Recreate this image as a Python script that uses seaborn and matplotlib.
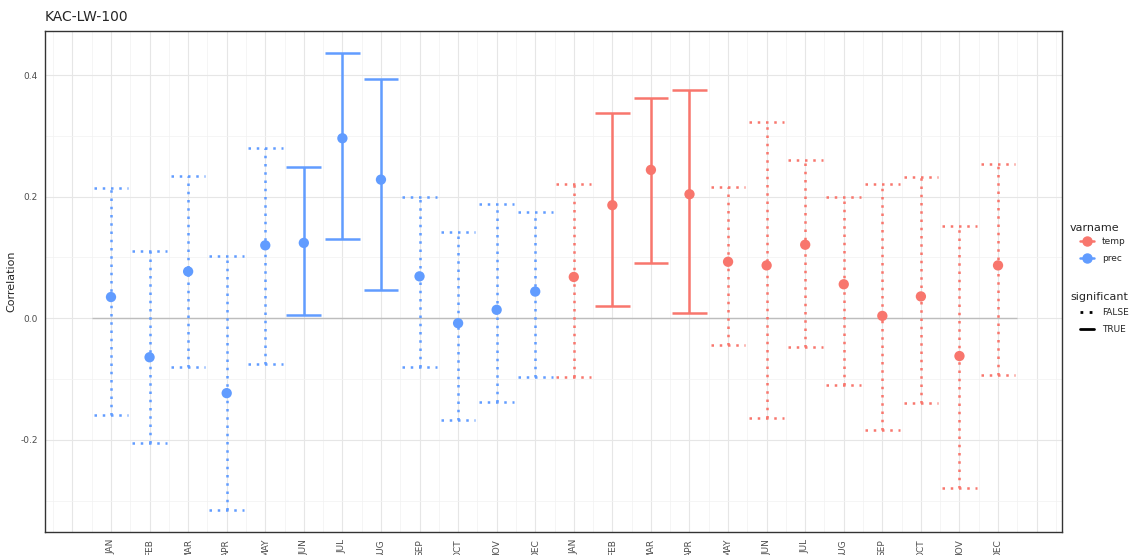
import numpy as np
import pandas as pd
import matplotlib
matplotlib.use("Agg")
import matplotlib.pyplot as plt
from matplotlib.lines import Line2D
import seaborn as sns

months = ["JAN", "FEB", "MAR", "APR", "MAY", "JUN",
          "JUL", "AUG", "SEP", "OCT", "NOV", "DEC"]

# correlation and confidence bounds
prec_coef = [0.035, -0.064, 0.077, -0.123, 0.120, 0.124,
             0.296, 0.228, 0.069, -0.008, 0.014, 0.044]
prec_lower = [-0.159, -0.205, -0.080, -0.315, -0.075, 0.006,
              0.130, 0.046, -0.080, -0.167, -0.138, -0.097]
prec_upper = [0.215, 0.111, 0.234, 0.102, 0.280, 0.249,
              0.436, 0.393, 0.200, 0.142, 0.188, 0.174]
prec_sig = [False, False, False, False, False, True,
            True, True, False, False, False, False]

temp_coef = [0.068, 0.186, 0.244, 0.204, 0.093, 0.087,
             0.121, 0.056, 0.004, 0.036, -0.062, 0.087]
temp_lower = [-0.097, 0.021, 0.091, 0.009, -0.044, -0.164,
              -0.047, -0.110, -0.183, -0.139, -0.279, -0.093]
temp_upper = [0.220, 0.338, 0.362, 0.376, 0.216, 0.323,
              0.260, 0.200, 0.221, 0.233, 0.152, 0.254]
temp_sig = [False, True, True, True, False, False,
            False, False, False, False, False, False]

colors = {"temp": "#F8766D", "prec": "#619CFF"}

df = pd.DataFrame({
    "month": months + months,
    "varname": ["prec"] * 12 + ["temp"] * 12,
    "coef": prec_coef + temp_coef,
    "lower": prec_lower + temp_lower,
    "upper": prec_upper + temp_upper,
    "significant": prec_sig + temp_sig,
})
df["pos"] = np.arange(len(df))

sns.set_style("white")
fig = plt.figure(figsize=(11.29, 5.55), dpi=100)
ax = fig.add_axes([0.0399, 0.0414, 0.9008, 0.9027])

# grid like ggplot theme_bw
for x in np.arange(-1, 25):
    ax.axvline(x, color="#E6E6E6", lw=0.8, zorder=0)
for x in np.arange(-1.5, 25, 1):
    ax.axvline(x, color="#F2F2F2", lw=0.5, zorder=0)
for y in [-0.4, -0.2, 0.0, 0.2, 0.4]:
    ax.axhline(y, color="#E6E6E6", lw=0.8, zorder=0)
for y in [-0.3, -0.1, 0.1, 0.3]:
    ax.axhline(y, color="#F2F2F2", lw=0.5, zorder=0)

ax.hlines(0, -0.5, 23.5, color="#BDBDBD", lw=1.0, zorder=1)

dotted = (0, (1, 2.3))
for _, r in df.iterrows():
    c = colors[r["varname"]]
    ls = "solid" if r["significant"] else dotted
    ax.vlines(r["pos"], r["lower"], r["upper"], color=c, lw=1.8, linestyles=[ls], zorder=2)
    ax.hlines([r["lower"], r["upper"]], r["pos"] - 0.45, r["pos"] + 0.45,
              color=c, lw=1.8, linestyles=[ls], zorder=2)

sns.scatterplot(data=df, x="pos", y="coef", hue="varname", palette=colors,
                s=55, edgecolor="none", legend=False, zorder=3, ax=ax)

ax.set_xlim(-1.71, 24.66)
ax.set_ylim(-0.3513, 0.4723)
ax.set_xticks(df["pos"])
ax.set_xticklabels(df["month"], rotation=90, fontsize=6.5, color="#4D4D4D")
ax.set_yticks([-0.2, 0.0, 0.2, 0.4])
ax.set_yticklabels(["-0.2", "0.0", "0.2", "0.4"], fontsize=6.5, color="#4D4D4D")
ax.tick_params(axis="both", length=3, width=0.8, color="#333333", pad=2)
ax.set_xlabel("")
ax.set_ylabel("Correlation", fontsize=8, labelpad=3)
for s in ax.spines.values():
    s.set_color("#333333")
    s.set_linewidth(1.0)
ax.set_title("KAC-LW-100", loc="left", fontsize=10, pad=7)

# legends: titles as text, keys indented like ggplot
fig.text(1070 / 1129, 1 - 228 / 555, "varname", fontsize=8, va="center", ha="left")
fig.text(1070 / 1129, 1 - 297 / 555, "significant", fontsize=8, va="center", ha="left")

h1 = [Line2D([0], [0], color=colors[k], lw=1.8, marker="o", markersize=6.5)
      for k in ["temp", "prec"]]
fig.legend(h1, ["temp", "prec"], loc="upper left",
           bbox_to_anchor=(1080 / 1129, 1 - 237 / 555), frameon=False, fontsize=6.5,
           handlelength=1.6, handletextpad=0.8, borderpad=0, borderaxespad=0,
           labelspacing=0.85)
h2 = [Line2D([0], [0], color="black", lw=2, linestyle=(0, (1, 2.3))),
      Line2D([0], [0], color="black", lw=2)]
fig.legend(h2, ["FALSE", "TRUE"], loc="upper left",
           bbox_to_anchor=(1080 / 1129, 1 - 308 / 555), frameon=False, fontsize=6.5,
           handlelength=1.6, handletextpad=0.8, borderpad=0, borderaxespad=0,
           labelspacing=0.85)

fig.savefig("out.png", dpi=100)
